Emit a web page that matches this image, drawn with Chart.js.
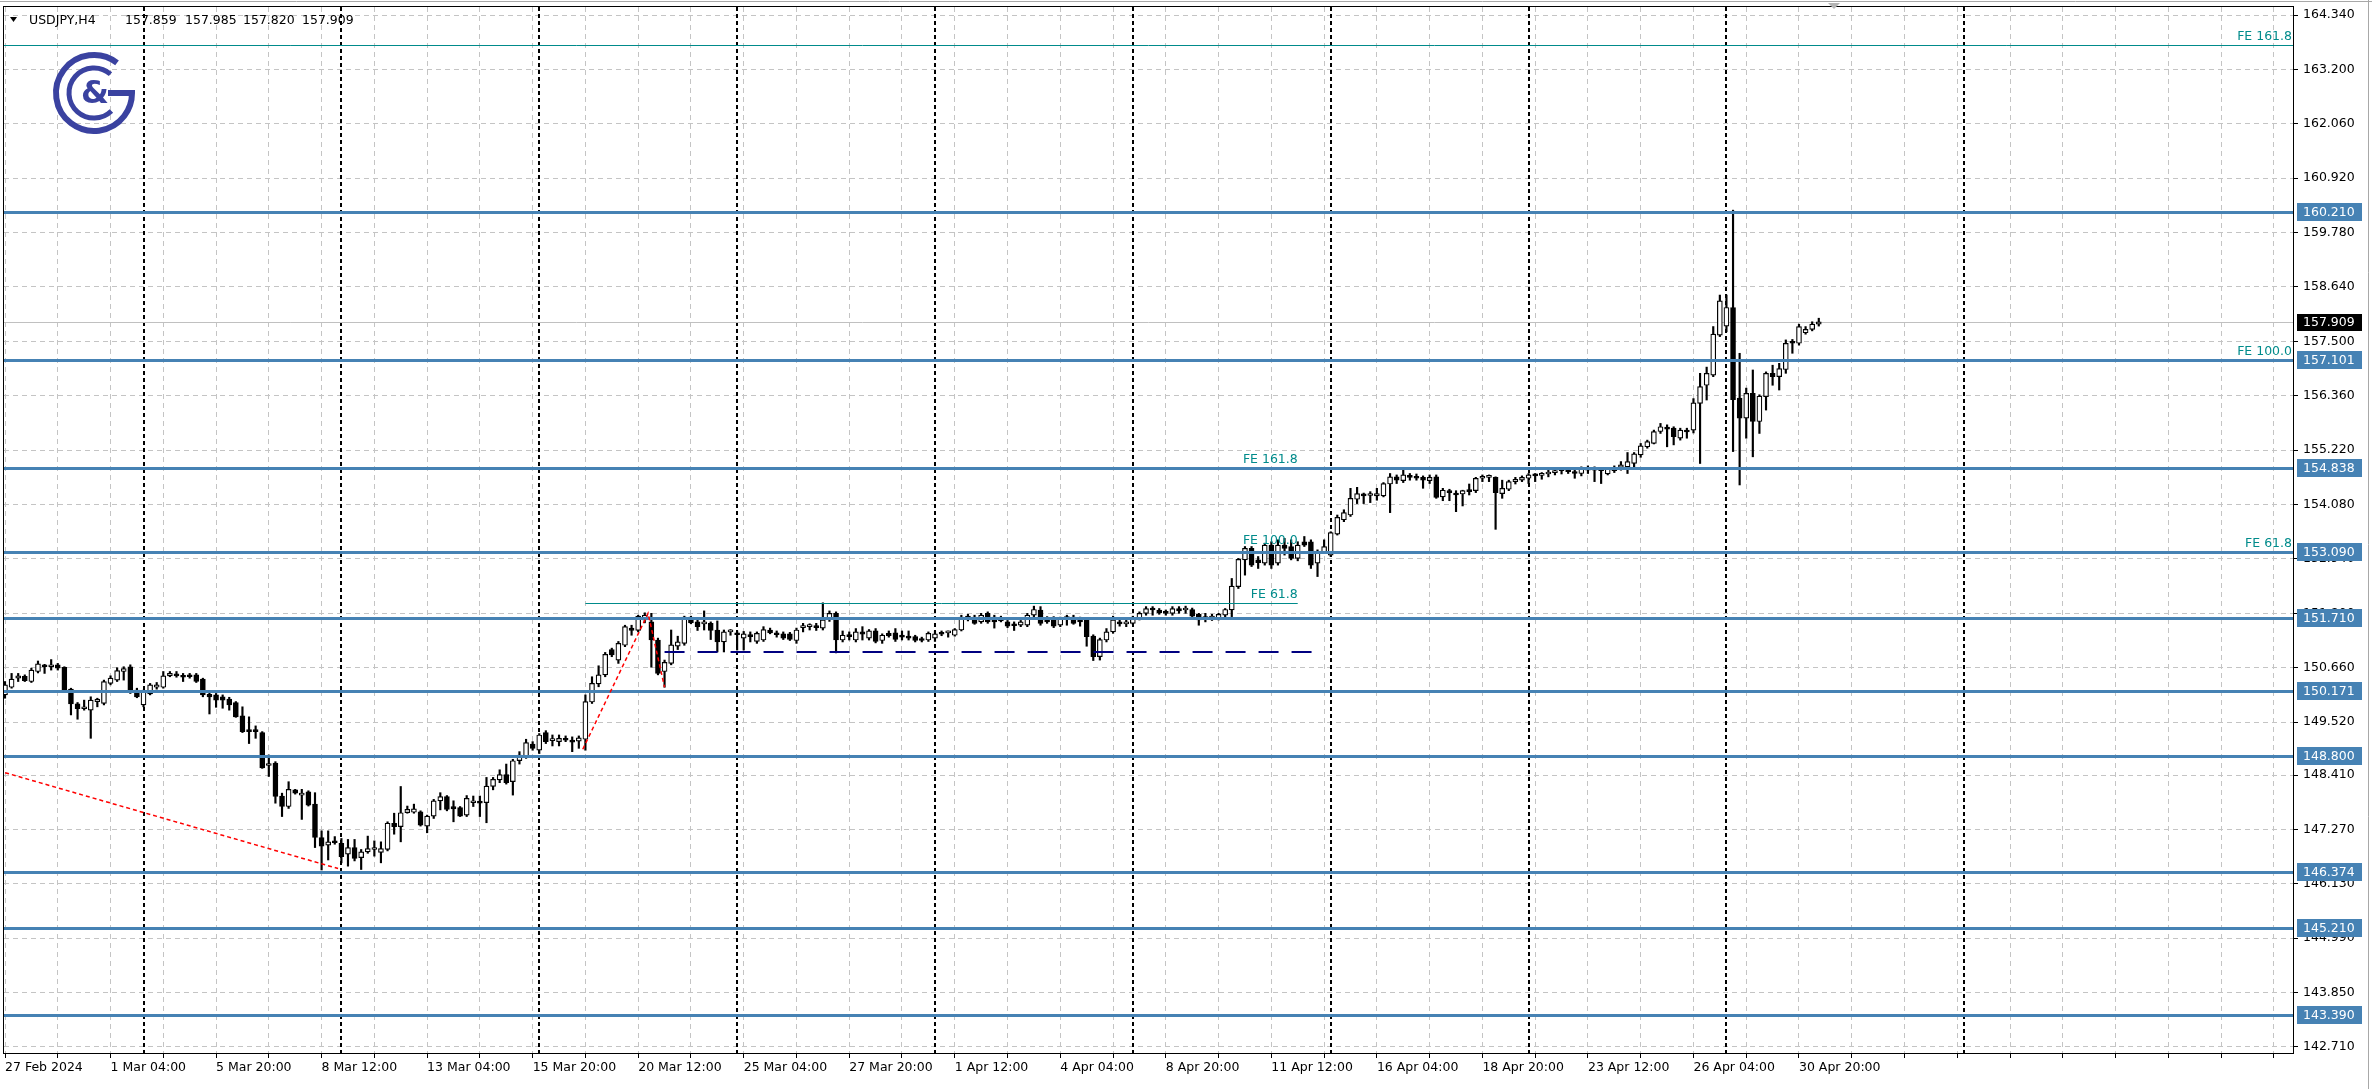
<!DOCTYPE html>
<html>
<head>
<meta charset="utf-8">
<title>USDJPY,H4</title>
<script src="https://cdn.jsdelivr.net/npm/chart.js@4.4.1/dist/chart.umd.min.js"></script>
<style>
    html, body { margin: 0; padding: 0; background: #fff; }
    #wrap { width: 2372px; height: 1089px; position: relative; }
</style>
</head>
<body>
<div id="wrap"><canvas id="chart" width="2372" height="1089"></canvas></div>
<script>
// H4 bars, 27 Feb 2024 12:00 .. 1 May 2024 08:00
const opens = [
    150.09,150.25,150.44,150.48,150.37,150.58,150.71,150.68,150.72,150.67,
    150.21,149.90,149.80,149.77,149.95,149.91,150.33,150.40,150.58,150.68,
    150.19,149.88,150.11,150.25,150.25,150.49,150.52,150.49,150.51,150.51,
    150.42,150.10,150.09,150.05,150.00,149.93,149.65,149.35,149.34,149.30,
    148.61,148.66,147.97,147.75,148.10,147.99,148.06,147.80,147.10,146.94,
    147.01,146.98,146.75,146.89,146.68,146.80,146.85,146.79,146.85,147.40,
    147.33,147.62,147.63,147.64,147.34,147.55,147.87,147.96,147.75,147.73,
    147.57,147.83,147.85,147.83,148.17,148.31,148.42,148.27,148.71,148.81,
    149.06,148.93,149.30,149.13,149.11,149.17,149.14,149.12,149.16,149.94,
    150.32,150.51,151.04,150.82,151.13,151.49,151.44,151.66,151.62,151.24,
    150.58,150.75,151.11,151.17,151.72,151.62,151.58,151.59,151.45,151.20,
    151.41,151.39,151.28,151.34,151.21,151.24,151.45,151.39,151.37,151.37,
    151.23,151.50,151.52,151.52,151.49,151.67,151.80,151.24,151.33,151.24,
    151.41,151.28,151.43,151.23,151.38,151.39,151.34,151.32,151.31,151.27,
    151.24,151.28,151.38,151.39,151.34,151.45,151.74,151.72,151.62,151.80,
    151.72,151.69,151.62,151.56,151.55,151.55,151.76,151.87,151.69,151.69,
    151.55,151.69,151.72,151.66,151.66,151.32,150.89,151.24,151.41,151.62,
    151.58,151.59,151.69,151.80,151.90,151.87,151.83,151.80,151.90,151.87,
    151.88,151.78,151.73,151.70,151.69,151.76,151.87,152.36,152.92,153.16,
    152.92,152.85,153.23,152.85,153.23,153.20,152.95,153.30,153.30,152.85,
    153.09,153.02,153.46,153.76,153.86,154.19,154.30,154.27,154.26,154.26,
    154.51,154.66,154.58,154.68,154.66,154.65,154.58,154.66,154.24,154.37,
    154.31,154.30,154.38,154.37,154.63,154.65,154.65,154.31,154.40,154.56,
    154.59,154.63,154.71,154.69,154.72,154.75,154.84,154.81,154.77,154.73,
    154.84,154.80,154.82,154.72,154.79,154.86,154.87,154.94,155.12,155.29,
    155.36,155.61,155.70,155.68,155.47,155.64,155.64,156.20,156.58,156.79,
    157.63,157.82,158.21,156.31,155.89,156.41,155.82,156.34,156.83,156.76,
    156.91,157.49,157.46,157.68,157.75,157.859
];
const highs = [
    150.37,150.54,150.54,150.51,150.65,150.80,150.73,150.83,150.75,150.68,
    150.23,149.93,149.98,150.05,150.02,150.40,150.49,150.66,150.68,150.72,
    150.23,150.19,150.33,150.35,150.58,150.58,150.58,150.54,150.54,150.54,
    150.44,150.16,150.12,150.09,150.04,149.95,149.84,149.63,149.44,149.32,
    148.83,148.69,148.03,148.27,148.11,148.11,148.08,148.04,147.24,147.24,
    147.12,147.08,147.06,147.06,146.85,147.13,147.03,147.01,147.43,147.61,
    148.17,147.76,147.80,147.66,147.57,147.90,148.04,147.98,147.87,147.75,
    147.98,147.97,147.97,148.36,148.36,148.52,148.64,148.74,148.90,149.16,
    149.11,149.28,149.34,149.25,149.25,149.23,149.21,149.23,150.09,150.47,
    150.70,150.98,151.07,151.21,151.55,151.55,151.76,151.81,151.80,151.28,
    150.82,151.45,151.32,151.74,151.74,151.69,151.85,151.62,151.64,151.45,
    151.46,151.43,151.42,151.41,151.41,151.52,151.49,151.43,151.41,151.40,
    151.49,151.59,151.58,151.59,152.02,151.85,151.83,151.43,151.41,151.48,
    151.52,151.46,151.48,151.37,151.43,151.48,151.43,151.43,151.34,151.30,
    151.41,151.43,151.43,151.43,151.48,151.76,151.78,151.76,151.80,151.83,
    151.76,151.74,151.65,151.62,151.65,151.80,151.95,151.94,151.73,151.73,
    151.72,151.76,151.76,151.72,151.67,151.35,151.28,151.48,151.74,151.71,
    151.67,151.74,151.83,151.94,151.94,151.90,151.87,151.94,151.94,151.95,
    151.91,151.80,151.80,151.78,151.80,151.90,152.53,152.95,153.20,153.20,
    152.99,153.27,153.30,153.34,153.37,153.34,153.30,153.41,153.34,153.13,
    153.34,153.51,153.86,153.97,154.42,154.44,154.32,154.35,154.42,154.54,
    154.73,154.70,154.80,154.73,154.72,154.68,154.70,154.70,154.42,154.40,
    154.37,154.38,154.51,154.65,154.70,154.70,154.66,154.59,154.59,154.65,
    154.68,154.73,154.73,154.75,154.80,154.84,154.86,154.86,154.80,154.87,
    154.89,154.87,154.86,154.86,154.89,154.98,155.17,155.17,155.36,155.43,
    155.64,155.78,155.75,155.71,155.68,155.68,156.30,156.83,156.96,157.81,
    158.47,158.47,160.25,157.25,156.52,156.90,156.38,156.86,157.00,157.04,
    157.53,157.54,157.86,157.81,157.91,157.985
];
const lows = [
    150.02,150.23,150.37,150.37,150.35,150.55,150.54,150.61,150.61,150.16,
    149.67,149.58,149.77,149.18,149.84,149.88,150.30,150.37,150.40,150.12,
    150.03,149.84,150.09,150.21,150.23,150.47,150.46,150.37,150.44,150.35,
    150.05,149.69,149.83,149.81,149.77,149.62,149.30,149.07,149.18,148.55,
    148.38,147.82,147.54,147.71,148.01,147.48,147.76,146.89,146.42,146.63,
    146.96,146.57,146.50,146.61,146.43,146.77,146.71,146.57,146.82,147.17,
    147.01,147.61,147.61,147.34,147.20,147.50,147.68,147.66,147.43,147.54,
    147.54,147.75,147.54,147.41,148.10,148.25,148.22,147.99,148.64,148.76,
    148.93,148.86,149.07,149.02,149.02,149.11,148.90,148.97,148.93,149.91,
    150.26,150.47,150.89,150.75,151.10,151.34,151.41,151.60,150.67,150.51,
    150.25,150.72,151.04,151.13,151.58,151.44,151.45,151.25,150.99,150.99,
    151.34,151.03,151.03,151.20,151.17,151.21,151.37,151.30,151.25,151.23,
    151.17,151.41,151.45,151.44,151.45,151.63,150.97,151.20,151.24,151.20,
    151.24,151.24,151.18,151.17,151.30,151.21,151.24,151.24,151.20,151.20,
    151.21,151.21,151.33,151.30,151.32,151.43,151.64,151.57,151.59,151.59,
    151.49,151.62,151.50,151.44,151.52,151.52,151.73,151.55,151.59,151.50,
    151.52,151.55,151.57,151.53,151.11,150.81,150.82,151.20,151.38,151.53,
    151.52,151.57,151.66,151.76,151.76,151.78,151.76,151.76,151.80,151.80,
    151.72,151.55,151.62,151.65,151.66,151.71,151.73,152.32,152.60,152.78,
    152.74,152.81,152.74,152.81,153.02,152.92,152.90,153.20,152.74,152.57,
    153.06,152.99,153.44,153.72,153.83,154.10,154.10,154.12,154.17,154.24,
    153.91,154.52,154.54,154.59,154.59,154.42,154.52,154.21,154.16,154.16,
    153.93,154.05,154.28,154.33,154.56,154.56,153.56,154.21,154.37,154.51,
    154.56,154.52,154.56,154.61,154.66,154.70,154.72,154.73,154.63,154.68,
    154.73,154.56,154.52,154.70,154.75,154.80,154.73,154.87,155.07,155.26,
    155.35,155.57,155.29,155.33,155.43,155.47,155.58,154.94,156.27,156.76,
    157.60,157.70,155.19,154.49,155.47,155.08,155.57,156.06,156.58,156.48,
    156.83,157.25,157.42,157.65,157.72,157.820
];
const closes = [
    150.30,150.42,150.49,150.39,150.61,150.74,150.68,150.72,150.65,150.19,
    149.90,149.80,149.82,149.98,150.00,150.37,150.44,150.60,150.64,150.19,
    150.05,150.16,150.30,150.30,150.49,150.54,150.49,150.46,150.47,150.37,
    150.09,150.05,149.98,149.98,149.88,149.63,149.32,149.32,149.32,148.56,
    148.64,147.96,147.75,148.11,148.03,148.01,147.78,147.10,146.92,147.01,
    146.99,146.70,146.89,146.66,146.80,146.87,146.89,146.87,147.40,147.33,
    147.62,147.69,147.70,147.36,147.55,147.87,147.96,147.69,147.70,147.55,
    147.92,147.87,147.82,148.18,148.32,148.42,148.25,148.71,148.83,149.09,
    148.97,149.25,149.11,149.17,149.18,149.14,149.10,149.19,149.95,150.33,
    150.51,150.94,150.93,151.17,151.52,151.44,151.74,151.76,151.24,150.54,
    150.77,151.14,151.20,151.72,151.60,151.52,151.60,151.44,151.20,151.41,
    151.43,151.35,151.37,151.31,151.38,151.46,151.39,151.35,151.28,151.25,
    151.45,151.52,151.53,151.50,151.66,151.80,151.24,151.34,151.31,151.41,
    151.36,151.43,151.21,151.34,151.33,151.25,151.30,151.28,151.23,151.23,
    151.38,151.37,151.36,151.41,151.46,151.72,151.69,151.59,151.76,151.62,
    151.62,151.64,151.53,151.54,151.62,151.76,151.88,151.59,151.62,151.53,
    151.69,151.72,151.59,151.62,151.31,150.89,151.25,151.41,151.66,151.58,
    151.62,151.69,151.80,151.90,151.87,151.81,151.80,151.90,151.85,151.88,
    151.74,151.66,151.69,151.73,151.78,151.88,152.37,152.93,153.16,152.81,
    152.86,153.23,152.81,153.23,153.16,152.95,153.23,153.23,152.81,153.09,
    153.20,153.49,153.81,153.91,154.21,154.31,154.26,154.30,154.31,154.52,
    154.66,154.59,154.70,154.65,154.63,154.59,154.65,154.23,154.38,154.33,
    154.28,154.37,154.35,154.63,154.66,154.67,154.33,154.42,154.56,154.61,
    154.65,154.70,154.68,154.72,154.75,154.79,154.79,154.77,154.73,154.86,
    154.80,154.84,154.79,154.82,154.86,154.91,154.98,155.14,155.31,155.40,
    155.61,155.71,155.66,155.50,155.64,155.60,156.21,156.55,156.83,157.65,
    158.35,158.21,156.28,155.89,156.41,155.82,156.35,156.83,156.76,156.93,
    157.46,157.46,157.81,157.75,157.86,157.909
];

// time axis labels, one every 16 bars starting at bar 0
const xTickLabels = [
    '27 Feb 2024', '1 Mar 04:00', '5 Mar 20:00', '8 Mar 12:00', '13 Mar 04:00',
    '15 Mar 20:00', '20 Mar 12:00', '25 Mar 04:00', '27 Mar 20:00', '1 Apr 12:00',
    '4 Apr 04:00', '8 Apr 20:00', '11 Apr 12:00', '16 Apr 04:00', '18 Apr 20:00',
    '23 Apr 12:00', '26 Apr 04:00', '30 Apr 20:00'
];
const yTickLabels = [
    164.340, 163.200, 162.060, 160.920, 159.780, 158.640, 157.500, 156.360,
    155.220, 154.080, 152.940, 151.800, 150.660, 149.520, 148.410, 147.270,
    146.130, 144.990, 143.850, 142.710
];
// horizontal support / resistance levels
const levels = [160.210, 157.101, 154.838, 153.090, 151.710, 150.171, 148.800, 146.374, 145.210, 143.390];
// weekly separators (Monday 00:00 bars)
const separatorBars = [21, 51, 81, 111, 141, 171, 201, 231, 261, 297];
// fibo expansion labels
const feBigNames = ['FE 161.8', 'FE 100.0', 'FE 61.8'];
const feBigPrices = [163.71, 157.101, 153.09];
const feSmallNames = ['FE 161.8', 'FE 100.0', 'FE 61.8'];
const feSmallPrices = [154.838, 153.15, 152.02];
const feSmallBars = [88, 196];
const feRedBigBars = [-1, 50.5];
const feRedBigPrices = [148.50, 146.45];
const feRedSmallBars = [87.6, 97.5, 100];
const feRedSmallPrices = [148.95, 151.80, 150.25];
const dashedBars = [100, 200];
const dashedPrice = 150.98;
const lastPrice = 157.909;
const header = ['USDJPY,H4', '157.859', '157.985', '157.820', '157.909'];

const X_MIN = -0.152, X_MAX = 346.9;
const Y_MIN = 142.584, Y_MAX = 164.508;
const FONT = 'DejaVu Sans';
const BLUE = '#4682b4';
const TEAL = '#008b8b';

Chart.defaults.font.family = FONT;
Chart.defaults.font.size = 12.5;
Chart.defaults.color = '#000';

const barIdx = opens.map((_, i) => i);
const xGrid = [];
for (let v = 0; v <= 344; v += 8) xGrid.push(v);

function hLine(ctx, x1, x2, y) {
    ctx.beginPath();
    ctx.moveTo(x1, y);
    ctx.lineTo(x2, y);
    ctx.stroke();
}

function drawLogo(ctx) {
    const cx = 94, cy = 93;
    ctx.save();
    ctx.strokeStyle = '#3a42a0';
    ctx.fillStyle = '#3a42a0';
    ctx.lineWidth = 6;
    ctx.beginPath();
    ctx.arc(cx, cy, 38, -0.92, 0, true);
    ctx.lineTo(cx + 14, cy);
    ctx.stroke();
    ctx.lineWidth = 5;
    ctx.beginPath();
    ctx.arc(cx, cy, 25, -0.85, 0.8, true);
    ctx.stroke();
    ctx.font = 'bold 32px ' + FONT;
    ctx.textAlign = 'center';
    ctx.textBaseline = 'middle';
    ctx.fillText('&', cx + 1, cy + 2);
    ctx.restore();
}

const overlay = {
    id: 'overlay',
    beforeDatasetsDraw(chart) {
        const {ctx, chartArea: a, scales: {x, y}} = chart;
        ctx.save();
        ctx.beginPath();
        ctx.rect(a.left, a.top, a.right - a.left, a.bottom - a.top);
        ctx.clip();
        // weekly separators
        ctx.strokeStyle = '#000';
        ctx.lineWidth = 2;
        ctx.setLineDash([4, 3]);
        separatorBars.forEach(b => {
            const px = Math.round(x.getPixelForValue(b));
            ctx.beginPath();
            ctx.moveTo(px, a.top);
            ctx.lineTo(px, a.bottom);
            ctx.stroke();
        });
        // bid line
        ctx.setLineDash([]);
        ctx.strokeStyle = '#c0c0c0';
        ctx.lineWidth = 1;
        hLine(ctx, a.left, a.right, Math.round(y.getPixelForValue(lastPrice)) + 0.5);
        ctx.restore();
    },
    afterDatasetsDraw(chart) {
        const {ctx, chartArea: a, scales: {x, y}} = chart;
        ctx.save();
        ctx.beginPath();
        ctx.rect(a.left, a.top, a.right - a.left, a.bottom - a.top);
        ctx.clip();

        // big FE teal level
        ctx.strokeStyle = TEAL;
        ctx.lineWidth = 1;
        hLine(ctx, a.left, a.right, Math.round(y.getPixelForValue(feBigPrices[0])) + 0.5);

        // small FE 61.8 segment
        hLine(ctx, x.getPixelForValue(feSmallBars[0]), x.getPixelForValue(feSmallBars[1]),
            Math.round(y.getPixelForValue(feSmallPrices[2])) + 0.5);

        // blue levels
        ctx.strokeStyle = BLUE;
        ctx.lineWidth = 3;
        levels.forEach(p => hLine(ctx, a.left, a.right, Math.round(y.getPixelForValue(p)) + 0.5));

        // navy dashed line
        ctx.strokeStyle = '#000080';
        ctx.lineWidth = 2;
        ctx.setLineDash([20, 13]);
        hLine(ctx, x.getPixelForValue(dashedBars[0]), x.getPixelForValue(dashedBars[1]),
            Math.round(y.getPixelForValue(dashedPrice)));

        // red FE trend lines
        ctx.strokeStyle = '#ff0000';
        ctx.lineWidth = 1.5;
        ctx.setLineDash([4, 3]);
        [[feRedBigBars, feRedBigPrices], [feRedSmallBars, feRedSmallPrices]].forEach(([bs, ps]) => {
            ctx.beginPath();
            bs.forEach((b, k) => {
                const px = x.getPixelForValue(b), py = y.getPixelForValue(ps[k]);
                if (k === 0) ctx.moveTo(px, py); else ctx.lineTo(px, py);
            });
            ctx.stroke();
        });
        ctx.setLineDash([]);

        // FE labels
        ctx.fillStyle = TEAL;
        ctx.font = '12.5px ' + FONT;
        ctx.textAlign = 'right';
        ctx.textBaseline = 'bottom';
        feBigNames.forEach((t, k) => {
            ctx.fillText(t, a.right - 1, y.getPixelForValue(feBigPrices[k]) - 2);
        });
        const sx = x.getPixelForValue(feSmallBars[1]);
        feSmallNames.forEach((t, k) => {
            ctx.fillText(t, sx, y.getPixelForValue(feSmallPrices[k]) - 2);
        });
        ctx.restore();
    },
    afterDraw(chart) {
        const {ctx, chartArea: a, scales: {y}} = chart;
        ctx.save();
        // window edges
        ctx.strokeStyle = '#a8a8a8';
        ctx.lineWidth = 1;
        hLine(ctx, 0, 2372, 1.5);
        ctx.beginPath();
        ctx.moveTo(2368.5, 0);
        ctx.lineTo(2368.5, 1089);
        ctx.stroke();
        // plot frame
        ctx.strokeStyle = '#000';
        ctx.strokeRect(a.left - 0.5, a.top - 0.5, a.right - a.left + 1, a.bottom - a.top + 1);

        // price tags
        ctx.font = '12.5px ' + FONT;
        ctx.textAlign = 'left';
        ctx.textBaseline = 'middle';
        levels.forEach(p => {
            const py = Math.round(y.getPixelForValue(p));
            ctx.fillStyle = BLUE;
            ctx.fillRect(a.right + 4, py - 9, 65, 18);
            ctx.fillStyle = '#fff';
            ctx.fillText(p.toFixed(3), a.right + 10, py + 1);
        });
        const lp = Math.round(y.getPixelForValue(lastPrice));
        ctx.fillStyle = '#000';
        ctx.fillRect(a.right + 4, lp - 8, 65, 17);
        ctx.fillStyle = '#fff';
        ctx.fillText(lastPrice.toFixed(3), a.right + 10, lp + 1);

        // header
        ctx.fillStyle = '#000';
        ctx.beginPath();
        ctx.moveTo(10, 17);
        ctx.lineTo(17, 17);
        ctx.lineTo(13.5, 22);
        ctx.closePath();
        ctx.fill();
        const hx = [29, 125, 185, 243, 302];
        header.forEach((t, k) => ctx.fillText(t, hx[k], 21));

        // chart shift marker
        ctx.fillStyle = '#b4b4b4';
        ctx.beginPath();
        ctx.moveTo(1828, 3);
        ctx.lineTo(1840, 3);
        ctx.lineTo(1834, 9);
        ctx.closePath();
        ctx.fill();

        drawLogo(ctx);
        ctx.restore();
    }
};

new Chart(document.getElementById('chart'), {
    type: 'bar',
    data: {
        datasets: [
            {
                label: 'wick',
                data: barIdx.map(i => ({x: i, y: [lows[i], highs[i]]})),
                backgroundColor: '#000',
                barThickness: 1.5,
                grouped: false,
                order: 2
            },
            {
                label: 'body',
                data: barIdx.map(i => ({x: i, y: [opens[i], closes[i]]})),
                backgroundColor: barIdx.map(i => closes[i] >= opens[i] ? '#fff' : '#000'),
                borderColor: '#000',
                borderWidth: 1.2,
                borderSkipped: false,
                barThickness: 5,
                minBarLength: 2,
                grouped: false,
                order: 1
            }
        ]
    },
    options: {
        responsive: false,
        animation: false,
        events: [],
        layout: { padding: { left: 4, top: 7, right: 0, bottom: 0 } },
        plugins: { legend: { display: false }, tooltip: { enabled: false } },
        scales: {
            x: {
                type: 'linear',
                min: X_MIN,
                max: X_MAX,
                offset: false,
                grid: { color: '#c4c4c4', offset: false, drawTicks: true, tickLength: 5, tickColor: '#000' },
                border: { display: false, dash: [5, 4] },
                ticks: {
                    autoSkip: false,
                    maxRotation: 0,
                    minRotation: 0,
                    align: 'start',
                    padding: 2,
                    callback: v => (v % 16 === 0 && xTickLabels[v / 16]) ? xTickLabels[v / 16] : ''
                },
                afterBuildTicks: axis => { axis.ticks = xGrid.map(v => ({value: v})); },
                afterFit: axis => { axis.height = 36; axis.paddingLeft = 0; axis.paddingRight = 0; }
            },
            y: {
                type: 'linear',
                position: 'right',
                min: Y_MIN,
                max: Y_MAX,
                grid: { color: '#c4c4c4', drawTicks: true, tickLength: 5, tickColor: '#000' },
                border: { display: false, dash: [5, 4] },
                ticks: {
                    autoSkip: false,
                    padding: 5,
                    callback: v => Number(v).toFixed(3)
                },
                afterBuildTicks: axis => { axis.ticks = yTickLabels.map(v => ({value: v})); },
                afterFit: axis => { axis.width = 79; axis.paddingTop = 0; axis.paddingBottom = 0; }
            }
        }
    },
    plugins: [overlay]
});
</script>
</body>
</html>
